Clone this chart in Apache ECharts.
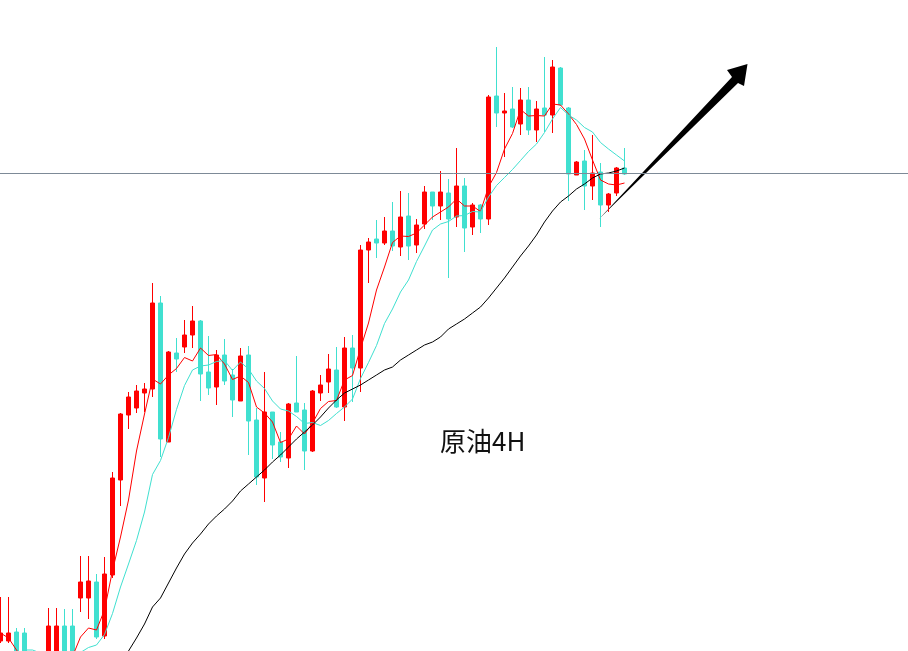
<!DOCTYPE html>
<html>
<head>
<meta charset="utf-8">
<title>原油4H</title>
<script src="https://cdn.jsdelivr.net/npm/echarts/dist/echarts.min.js"></script>
<style>
    html, body { margin: 0; padding: 0; background: #fff; }
    #main { width: 908px; height: 651px; }
</style>
</head>
<body>
<div id="main"></div>
<script>
// 4H bars, prices (first bars sit below the frame)
var opens = [72.18, 72.18, 72.36, 72.34, 71.40, 71.20, 71.30, 71.80, 72.48, 72.48,
    73.04, 73.04, 73.36, 72.28, 73.50, 75.40, 76.70, 76.84, 77.14, 77.22,
    78.94, 76.16, 77.94, 78.06, 78.30, 78.58, 77.56, 77.26, 77.90, 77.50,
    76.98, 77.90, 76.60, 75.44, 76.76, 76.16, 75.84, 76.94, 76.80, 75.98,
    77.14, 77.36, 77.60, 76.86, 78.04, 77.64, 80.00, 80.22, 80.14, 80.38,
    80.06, 80.68, 80.10, 80.52, 81.16, 80.88, 81.14, 80.66, 81.28, 80.46,
    80.90, 80.62, 83.08, 82.74, 82.82, 82.52, 83.00, 82.40, 82.84, 82.70,
    83.64, 82.84, 81.50, 81.78, 81.28, 81.56, 80.90, 81.14, 81.64];
var closes = [72.34, 72.34, 71.80, 71.40, 71.20, 71.40, 72.48, 72.48, 71.50, 71.50,
    73.36, 73.38, 72.26, 73.52, 75.44, 76.72, 77.06, 77.18, 77.22, 78.94,
    76.22, 77.96, 77.82, 78.30, 78.58, 77.52, 77.24, 77.90, 77.38, 77.00,
    77.88, 76.58, 75.46, 76.76, 76.10, 75.86, 76.92, 76.76, 75.98, 77.18,
    77.30, 77.62, 76.86, 78.04, 77.64, 80.00, 80.16, 80.14, 80.38, 80.08,
    80.66, 80.08, 80.50, 81.16, 80.88, 81.16, 80.62, 81.28, 80.44, 80.90,
    80.62, 83.06, 82.74, 82.78, 82.46, 83.00, 82.40, 82.82, 82.70, 83.66,
    82.90, 81.52, 81.76, 81.28, 81.54, 80.90, 81.12, 81.64, 81.52];
var lows = [72.14, 72.14, 71.70, 71.30, 71.10, 71.12, 71.20, 71.70, 71.40, 71.40,
    72.76, 72.62, 72.22, 72.22, 73.44, 74.88, 76.42, 76.74, 76.76, 77.06,
    75.86, 76.16, 77.56, 77.94, 78.04, 76.98, 77.10, 76.90, 77.30, 76.66,
    76.98, 75.90, 75.30, 74.96, 75.82, 75.76, 75.64, 76.76, 75.60, 75.96,
    76.98, 77.14, 76.84, 76.58, 76.96, 77.16, 79.34, 79.84, 80.10, 79.98,
    79.88, 79.80, 79.94, 80.42, 80.60, 80.60, 79.44, 80.46, 79.96, 80.30,
    80.34, 80.50, 82.46, 81.86, 82.44, 82.30, 82.30, 82.16, 82.36, 82.34,
    82.88, 80.98, 81.50, 80.80, 81.00, 80.46, 80.76, 81.08, 81.50];
var highs = [73.06, 73.06, 72.44, 72.44, 71.48, 71.50, 72.84, 72.84, 72.82, 72.82,
    73.88, 73.88, 73.52, 73.86, 75.56, 76.74, 77.16, 77.30, 77.34, 79.34,
    79.08, 77.98, 78.24, 78.60, 78.88, 78.60, 78.28, 78.00, 78.22, 77.62,
    78.04, 78.08, 76.84, 77.56, 76.76, 76.36, 76.94, 77.88, 76.94, 77.20,
    77.50, 77.92, 78.06, 78.26, 78.30, 80.10, 80.24, 80.60, 80.66, 80.96,
    81.18, 81.14, 80.62, 81.28, 81.16, 81.58, 81.42, 82.04, 81.44, 80.94,
    80.92, 83.10, 84.06, 83.14, 83.26, 83.24, 83.26, 82.98, 83.86, 83.80,
    83.66, 82.86, 81.78, 82.00, 82.30, 81.74, 81.14, 81.66, 82.04];

// moving average lines as drawn on the chart
var ma5 = [72.34, 72.24, 72.00, 71.80, 71.82, 71.63, 71.66, 71.79, 71.81, 71.87,
    72.26, 72.44, 72.40, 72.80, 73.59, 74.26, 75.00, 75.98, 76.72, 77.42,
    77.32, 77.50, 77.63, 77.85, 77.78, 78.04, 77.89, 77.91, 77.72, 77.41,
    77.48, 77.35, 76.86, 76.74, 76.56, 76.15, 76.22, 76.48, 76.32, 76.54,
    76.83, 76.97, 76.99, 77.40, 77.49, 78.03, 78.54, 79.20, 79.66, 80.15,
    80.28, 80.27, 80.34, 80.50, 80.66, 80.76, 80.86, 81.02, 80.88, 80.88,
    80.77, 81.26, 81.55, 82.02, 82.33, 82.81, 82.68, 82.69, 82.68, 82.92,
    82.90, 82.72, 82.51, 82.22, 81.80, 81.40, 81.32, 81.30, 81.34];
var ma10 = [71.80, 71.86, 71.92, 72.00, 72.00, 71.94, 71.88, 71.86, 71.84, 71.84,
    71.95, 72.05, 72.10, 72.31, 72.73, 73.26, 73.72, 74.19, 74.76, 75.51,
    75.79, 76.25, 76.81, 77.29, 77.60, 77.68, 77.70, 77.77, 77.79, 77.59,
    77.76, 77.62, 77.38, 77.23, 76.98, 76.82, 76.78, 76.67, 76.53, 76.55,
    76.49, 76.59, 76.73, 76.86, 77.02, 77.43, 77.75, 78.09, 78.53, 78.82,
    79.16, 79.40, 79.77, 80.08, 80.40, 80.52, 80.57, 80.68, 80.69, 80.77,
    80.76, 81.06, 81.29, 81.45, 81.61, 81.79, 81.97, 82.12, 82.35, 82.62,
    82.85, 82.70, 82.60, 82.45, 82.36, 82.15, 82.02, 81.90, 81.78];
var maSlow = [69.00, 69.10, 69.20, 69.30, 69.44, 69.60, 69.76, 69.96, 70.16, 70.36,
    70.58, 70.80, 71.02, 71.24, 71.48, 71.74, 71.98, 72.24, 72.52, 72.86,
    73.04, 73.34, 73.64, 73.92, 74.14, 74.32, 74.52, 74.68, 74.82, 74.98,
    75.18, 75.32, 75.46, 75.60, 75.76, 75.90, 76.06, 76.22, 76.36, 76.50,
    76.66, 76.84, 77.00, 77.14, 77.22, 77.30, 77.40, 77.50, 77.60, 77.66,
    77.80, 77.90, 78.00, 78.10, 78.16, 78.26, 78.42, 78.52, 78.62, 78.74,
    78.86, 79.04, 79.24, 79.44, 79.66, 79.88, 80.08, 80.30, 80.56, 80.78,
    80.96, 81.08, 81.22, 81.32, 81.44, 81.52, 81.54, 81.58, 81.64];

var refLevel = 81.54;      // horizontal line
var chartLabel = '原油4H';
var slotCount = 114;       // bar slots incl. empty space on the right

var categories = [];
for (var i = 0; i < slotCount; i++) {
    categories.push(String(i + 1));
}
var kData = [];
for (var j = 0; j < opens.length; j++) {
    kData.push([opens[j], closes[j], lows[j], highs[j]]);
}

var chart = echarts.init(document.getElementById('main'));
var option = {
    backgroundColor: '#ffffff',
    animation: false,
    // plot runs past the bottom edge so the early bars drop out of view
    grid: {
        left: -3.5,
        top: 0,
        width: 912,
        height: 1250,
        containLabel: false,
        outerBoundsMode: 'none'
    },
    xAxis: {
        type: 'category',
        data: categories,
        boundaryGap: true,
        show: false
    },
    yAxis: {
        type: 'value',
        min: 60,
        max: 85,
        show: false,
        splitLine: { show: false }
    },
    series: [{
        name: 'K',
        type: 'candlestick',
        data: kData,
        barWidth: 5,
        itemStyle: {
            color: '#ff0000',
            color0: '#40e0d0',
            borderColor: '#ff0000',
            borderColor0: '#40e0d0',
            borderWidth: 1
        },
        markLine: {
            silent: true,
            symbol: ['none', 'none'],
            label: { show: false },
            lineStyle: { color: '#7d8a97', width: 1, type: 'solid' },
            data: [{ yAxis: refLevel }]
        }
    }, {
        name: 'MA5',
        type: 'line',
        data: ma5,
        symbol: 'none',
        lineStyle: { color: '#ff0000', width: 1 }
    }, {
        name: 'MA10',
        type: 'line',
        data: ma10,
        symbol: 'none',
        lineStyle: { color: '#40e0d0', width: 1 }
    }, {
        name: 'MA slow',
        type: 'line',
        data: maSlow,
        symbol: 'none',
        lineStyle: { color: '#000000', width: 1 }
    }],
    graphic: [{
        // hand drawn arrow
        type: 'polygon',
        shape: {
            points: [[599, 219], [732, 77], [727, 70], [747.5, 64], [744, 86], [738, 83]]
        },
        style: { fill: '#000000' }
    }, {
        type: 'text',
        left: 440,
        top: 428,
        style: {
            text: chartLabel,
            fontSize: 26,
            fontFamily: '"Noto Sans CJK SC", sans-serif',
            fill: '#111111'
        }
    }]
};
chart.setOption(option);
</script>
</body>
</html>
